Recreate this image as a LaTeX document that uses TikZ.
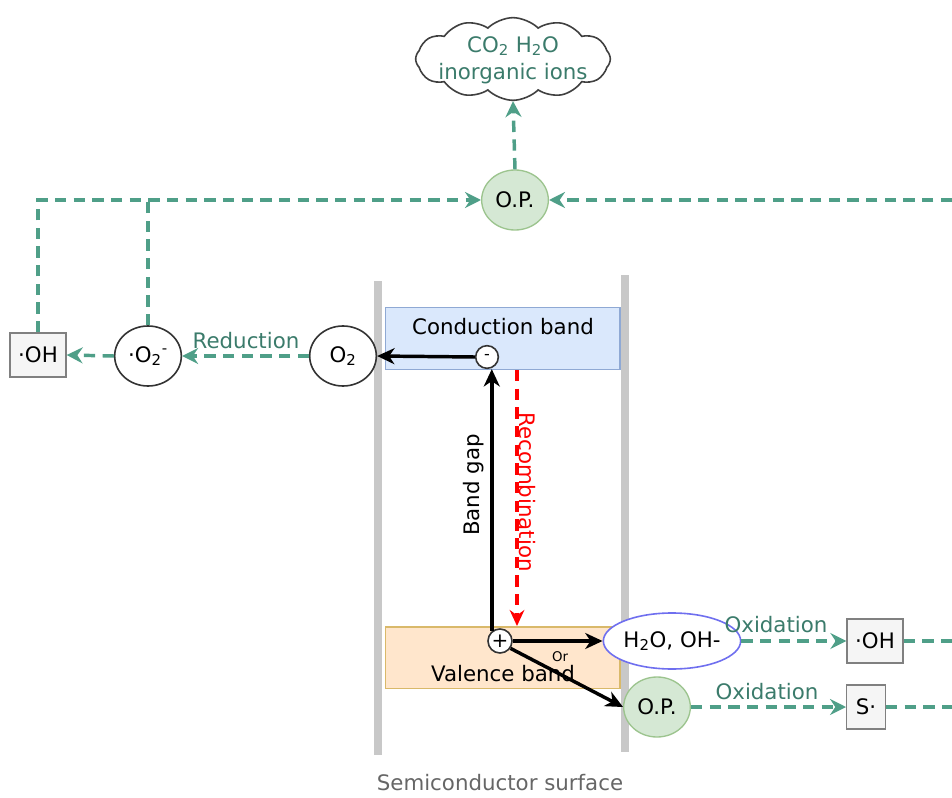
\documentclass[tikz,border=0pt]{standalone}
\usepackage{fontspec}
\setmainfont{DejaVu Sans}
\usetikzlibrary{shapes.geometric,shapes.symbols,arrows.meta}
\definecolor{tealA}{HTML}{4F9F88}
\definecolor{tealtxt}{HTML}{3B7B6B}
\definecolor{gfill}{HTML}{D5E8D4}
\definecolor{gline}{HTML}{9CC48E}
\definecolor{bfill}{HTML}{DAE8FC}
\definecolor{bline}{HTML}{8FA9D4}
\definecolor{ofill}{HTML}{FFE6CC}
\definecolor{oline}{HTML}{D9B96A}
\definecolor{barc}{HTML}{C8C8C8}
\definecolor{boxf}{HTML}{F5F5F5}
\definecolor{boxl}{HTML}{808080}
\definecolor{blueel}{HTML}{6F6FEF}
\definecolor{gtxt}{HTML}{666666}
\begin{document}
\begin{tikzpicture}[x=0.75pt,y=-0.75pt,
 every node/.style={font=\fontsize{16}{19}\selectfont, inner sep=0pt},
 opnode/.style={ellipse, draw=gline, fill=gfill, line width=1pt, minimum width=50pt, minimum height=45pt},
 molnode/.style={ellipse, draw=black!80, line width=1.2pt, fill=white, minimum width=50pt, minimum height=45pt},
 radbox/.style={rectangle, draw=boxl, fill=boxf, line width=1pt, minimum height=33pt},
 tflow/.style={tealA, line width=2.6pt, dash pattern=on 8.5pt off 5.5pt, -{Stealth[length=12pt,width=12pt,inset=4pt]}},
 tline/.style={tealA, line width=2.6pt, dash pattern=on 8.5pt off 5.5pt},
 barrow/.style={black, line width=2.6pt, -{Stealth[length=13pt,width=12pt,inset=4pt]}},
 rarrow/.style={red, line width=2.4pt, dash pattern=on 8.5pt off 5.5pt, -{Stealth[length=12pt,width=11pt,inset=4pt]}},
 band/.style={rectangle, line width=1pt, minimum width=176pt, minimum height=46pt},
 carrier/.style={circle, draw=black!80, line width=1.2pt, fill=white},
 lbl/.style={text=tealtxt}
]
\useasboundingbox (0,0) rectangle (952,798);

% semiconductor walls
\fill[barc] (374,281) rectangle (382,755);
\fill[barc] (621,275) rectangle (629,752);

% bands
\node[band, draw=bline, fill=bfill] (cb) at (502.5,338.5) {};
\node (cbt) at (503,327) {Conduction band};
\node[band, draw=oline, fill=ofill] (vb) at (502.5,657.5) {};
\node (vbt) at (503,674) {Valence band};

% carriers
\node[carrier, minimum size=17pt] (minus) at (487,357) {\fontsize{12}{12}\selectfont -};
\node[carrier, minimum size=18pt] (plus) at (500,641) {\fontsize{15}{15}\selectfont +};

% molecules and radicals
\node[molnode] (o2) at (343,356) {O\textsubscript{2}};
\node[molnode] (o2m) at (148,356) {·O\textsubscript{2}\textsuperscript{-}};
\node[radbox, minimum width=42pt] (ohl) at (38,355) {·OH};
\node[opnode] (opt) at (515,200) {O.P.};
\node[cloud, draw=black!75, line width=1.2pt, cloud puffs=12, cloud puff arc=90, cloud ignores aspect,
      minimum width=146pt, minimum height=62pt] (cloud) at (513,59) {};
\node[align=center, text=tealtxt, font=\fontsize{16}{20}\selectfont] (cloudt) at (513,60) {CO\textsubscript{2} H\textsubscript{2}O\\inorganic ions};
\node[ellipse, draw=blueel, line width=1.2pt, fill=white, minimum width=73pt, minimum height=42pt] (h2o) at (672,641) {H\textsubscript{2}O, OH-};
\node[opnode] (opb) at (657,707) {O.P.};
\node[radbox, minimum width=42pt] (ohr) at (875,641) {·OH};
\node[radbox, minimum width=29pt] (sr) at (866,707) {S·};

% free ends
\coordinate (rtop) at (952,200);
\coordinate (rmid) at (952,641);
\coordinate (rbot) at (952,707);
\coordinate (rs) at (517,370);
\coordinate (re) at (517,626);

% teal flows
\draw[tflow] (opt.north) -- (cloud.south);
\draw[tflow] (ohl.north) |- (opt.west);
\draw[tline] (o2m.north) -- (o2m.north |- opt.west);
\draw[tflow] (rtop) -- (opt.east);
\draw[tflow] (o2.west) -- (o2m.east);
\draw[tflow] (o2m.west) -- (ohl.east);
\draw[tflow] (h2o.east) -- (ohr.west);
\draw[tflow] (opb.east) -- (sr.west);
\draw[tline] (ohr.east) -- (rmid);
\draw[tline] (sr.east) -- (rbot);

% black arrows
\draw[barrow] (minus.west) -- (o2.east);
\draw[barrow] (plus.130) -- (plus.130 |- minus.south);
\draw[barrow] (plus.east) -- (h2o.west);
\draw[barrow] (plus.-35) -- (opb.west);
\draw[rarrow] (rs) -- (re);

% labels
\node[lbl] (lred) at (246,341) {Reduction};
\node[lbl] (lox1) at (776,625) {Oxidation};
\node[lbl] (lox2) at (767,692) {Oxidation};
\node[font=\fontsize{10}{10}\selectfont] (lor) at (560,657) {Or};
\node[rotate=90] (lbg) at (474,485) {Band gap};
\node[rotate=-90, text=red] (lrec) at (527,492) {Recombination};
\node[text=gtxt] (lsurf) at (500,783) {Semiconductor surface};
\end{tikzpicture}
\end{document}
